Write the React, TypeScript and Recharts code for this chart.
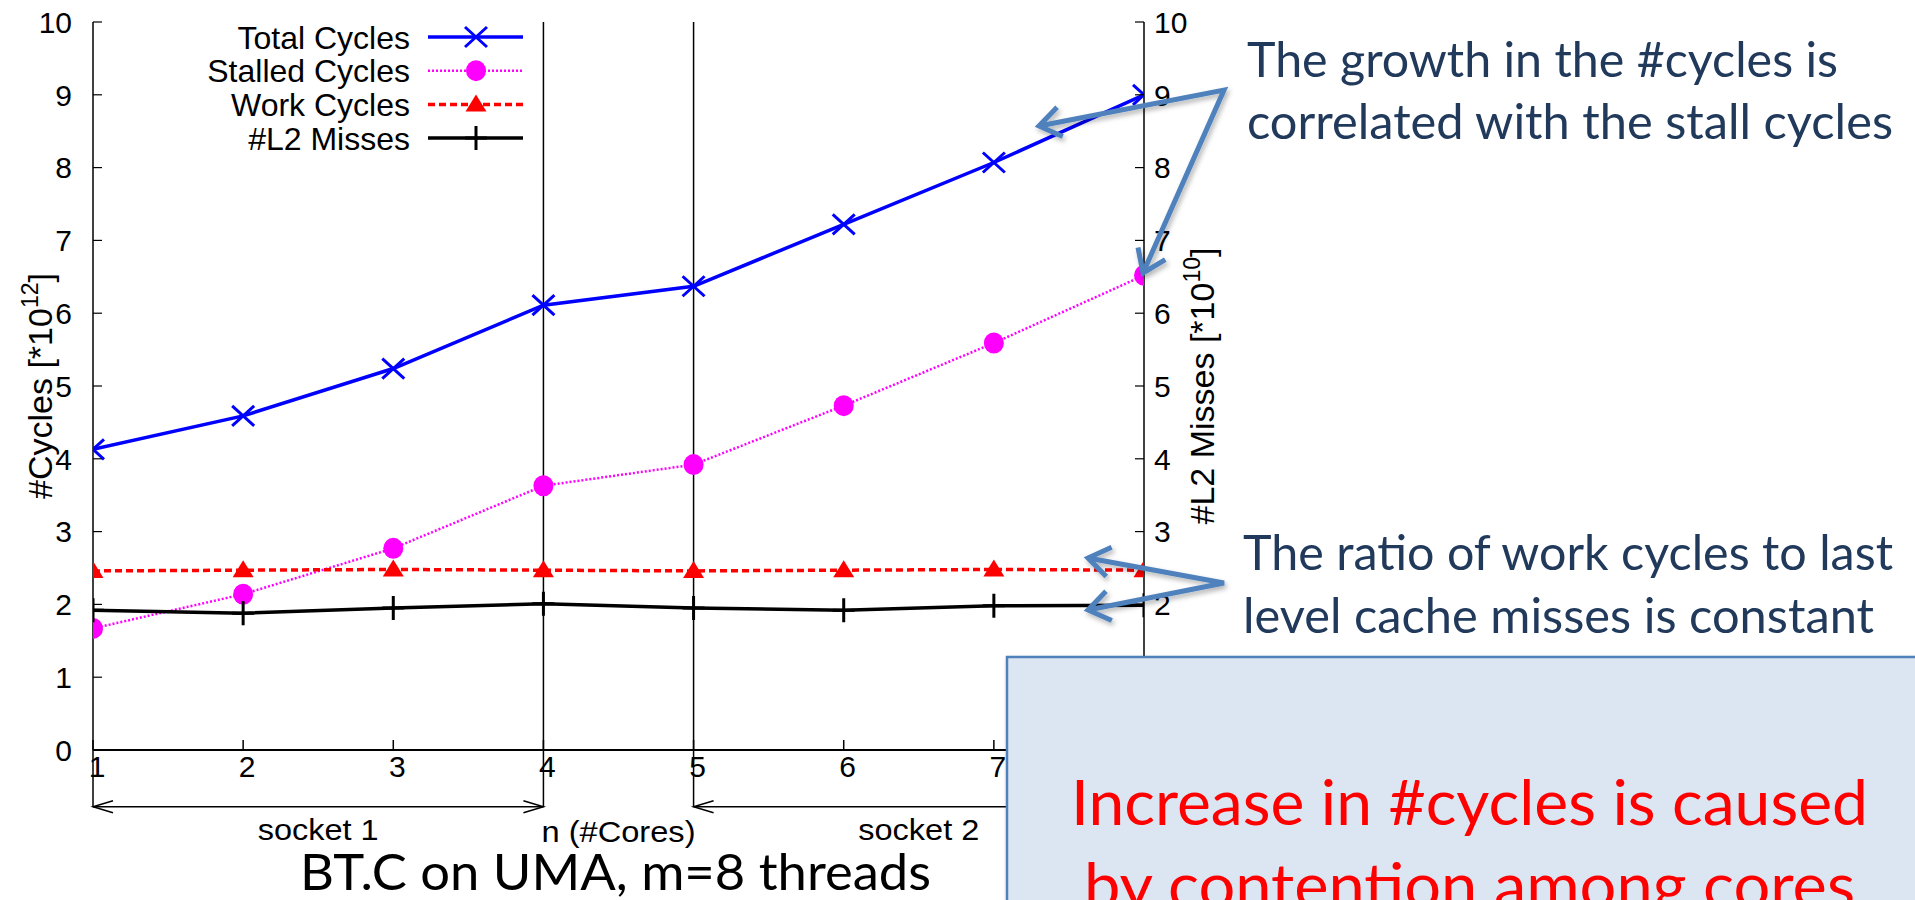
import React from 'react';
import { LineChart, Line, XAxis, YAxis, ReferenceLine, Legend } from 'recharts';

// n (#Cores)
const cores = [1, 2, 3, 4, 5, 6, 7, 8];
// #Cycles [*10^12]
const totalCycles = [4.13, 4.59, 5.24, 6.11, 6.37, 7.22, 8.07, 9.0];
const stalledCycles = [1.67, 2.14, 2.77, 3.63, 3.92, 4.73, 5.59, 6.52];
const workCycles = [2.46, 2.47, 2.48, 2.47, 2.46, 2.47, 2.48, 2.47];
// #L2 Misses [*10^10] (right axis)
const l2Misses = [1.92, 1.88, 1.95, 2.01, 1.95, 1.92, 1.98, 1.99];

const yTicks = [0, 1, 2, 3, 4, 5, 6, 7, 8, 9, 10];
const rightTicks = [1, 2, 3, 4, 5, 6, 7, 8, 9, 10];
const xTicks = cores;
const arrowLevel = -0.78;

const data = cores.map((n, i) => ({
  n,
  total: totalCycles[i],
  stalled: stalledCycles[i],
  work: workCycles[i],
  l2: l2Misses[i]
}));

const series = [
  { key: 'total', name: 'Total Cycles', color: '#0000ff', width: 3.5, dash: undefined, marker: 'cross', axis: 'left' },
  { key: 'stalled', name: 'Stalled Cycles', color: '#ff00ff', width: 2.5, dash: '2 2', marker: 'circle', axis: 'left' },
  { key: 'work', name: 'Work Cycles', color: '#ff0000', width: 3.5, dash: '7 4', marker: 'triangle', axis: 'left' },
  { key: 'l2', name: '#L2 Misses', color: '#000000', width: 3.5, dash: undefined, marker: 'plus', axis: 'right' }
];

const gp = 'Liberation Sans, Arial, Helvetica, sans-serif';
const slide = 'Lato, Open Sans, sans-serif';

const drawMarker = (kind: string, cx: number, cy: number, color: string) => {
  if (kind === 'cross')
    return (
      <path
        d={`M${cx - 11},${cy - 10}L${cx + 11},${cy + 10}M${cx - 11},${cy + 10}L${cx + 11},${cy - 10}`}
        stroke={color}
        strokeWidth={3}
        fill="none"
      />
    );
  if (kind === 'circle') return <ellipse cx={cx} cy={cy} rx={10} ry={10.5} fill={color} />;
  if (kind === 'triangle')
    return <path d={`M${cx},${cy - 10}L${cx + 10.5},${cy + 7}L${cx - 10.5},${cy + 7}Z`} fill={color} />;
  return (
    <path
      d={`M${cx - 11},${cy}L${cx + 11},${cy}M${cx},${cy - 12}L${cx},${cy + 12}`}
      stroke={color}
      strokeWidth={3}
      fill="none"
    />
  );
};

const renderLegend = () => (
  <svg width={350} height={140} style={{ display: 'block' }}>
    {series.map((s, i) => {
      const y = 17 + i * 33.7;
      return (
        <g key={s.key}>
          <text x={220} y={y} dy="0.36em" textAnchor="end" fontFamily={gp} fontSize={32} fill="#000">
            {s.name}
          </text>
          <line x1={238} y1={y} x2={333} y2={y} stroke={s.color} strokeWidth={s.width} strokeDasharray={s.dash} />
          {drawMarker(s.marker, 286, y, s.color)}
        </g>
      );
    })}
  </svg>
);

const BottomTick = (props: any) => {
  const { x, y, payload } = props;
  return (
    <g>
      <line x1={x} y1={y} x2={x} y2={y - 10} stroke="#000" strokeWidth={1.5} />
      <text x={x + 4} y={y + 27} textAnchor="middle" fontFamily={gp} fontSize={30} fill="#000">
        {payload.value}
      </text>
    </g>
  );
};

const TopTick = (props: any) => {
  const { x, y } = props;
  return <line x1={x} y1={y} x2={x} y2={y + 10} stroke="#000" strokeWidth={1.5} />;
};

const LeftTick = (props: any) => {
  const { x, y, payload } = props;
  return (
    <g>
      <line x1={x} y1={y} x2={x + 9} y2={y} stroke="#000" strokeWidth={1.2} />
      <text x={x - 21} y={y} dy="0.36em" textAnchor="end" fontFamily={gp} fontSize={30} fill="#000">
        {payload.value}
      </text>
    </g>
  );
};

const RightTick = (props: any) => {
  const { x, y, payload } = props;
  return (
    <g>
      <line x1={x} y1={y} x2={x - 9} y2={y} stroke="#000" strokeWidth={1.2} />
      <text x={x + 10} y={y} dy="0.36em" textAnchor="start" fontFamily={gp} fontSize={30} fill="#000">
        {payload.value}
      </text>
    </g>
  );
};

const axisTitle = (main: string, sup: string, dx: number) => (props: any) => {
  const vb = props.viewBox;
  const cx = vb.x + dx;
  const cy = vb.y + vb.height / 2;
  return (
    <text
      x={cx}
      y={cy}
      transform={`rotate(-90, ${cx}, ${cy})`}
      textAnchor="middle"
      fontFamily={gp}
      fontSize={34}
      fill="#000"
    >
      {main}
      <tspan fontSize={23} dy={-14}>
        {sup}
      </tspan>
      <tspan dy={14}>]</tspan>
    </text>
  );
};

const xTitle = (props: any) => {
  const vb = props.viewBox;
  return (
    <text
      x={vb.x + vb.width / 2}
      y={vb.y + 92}
      textAnchor="middle"
      fontFamily={gp}
      fontSize={30}
      textLength={154}
      lengthAdjust="spacingAndGlyphs"
      fill="#000"
    >
      n (#Cores)
    </text>
  );
};

const socketArrow = (label: string) => (props: any) => {
  const { x1, y1, x2, y2 } = props;
  return (
    <g>
      <line x1={x1} y1={y1} x2={x2} y2={y2} stroke="#000" strokeWidth={1.5} />
      <path
        d={`M${x1 + 20},${y1 - 6}L${x1},${y1}L${x1 + 20},${y1 + 6}M${x2 - 20},${y2 - 6}L${x2},${y2}L${x2 - 20},${y2 + 6}`}
        fill="none"
        stroke="#000"
        strokeWidth={1.5}
      />
      <text
        x={(x1 + x2) / 2}
        y={y1 + 33}
        textAnchor="middle"
        fontFamily={gp}
        fontSize={30}
        textLength={121}
        lengthAdjust="spacingAndGlyphs"
        fill="#000"
      >
        {label}
      </text>
    </g>
  );
};

const arrowHead = (x1: number, y1: number, x2: number, y2: number) => {
  const a = Math.atan2(y2 - y1, x2 - x1);
  const L = 26;
  const s = (35 * Math.PI) / 180;
  const p1 = [x2 - L * Math.cos(a - s), y2 - L * Math.sin(a - s)];
  const p2 = [x2 - L * Math.cos(a + s), y2 - L * Math.sin(a + s)];
  return `M${p1[0]},${p1[1]}L${x2},${y2}L${p2[0]},${p2[1]}`;
};

const Callout = ({ pts }: { pts: number[][] }) => {
  const [a, v, b] = pts;
  return (
    <g filter="url(#shadow)" fill="none" stroke="#4f81bd" strokeWidth={5} strokeLinejoin="miter">
      <path d={`M${a[0]},${a[1]}L${v[0]},${v[1]}L${b[0]},${b[1]}`} />
      <path d={arrowHead(v[0], v[1], a[0], a[1])} />
      <path d={arrowHead(v[0], v[1], b[0], b[1])} />
    </g>
  );
};

const SlideText = ({ x, y, w, size, color, children }: any) => (
  <text x={x} y={y} fontFamily={slide} fontSize={size} fill={color} textLength={w} lengthAdjust="spacingAndGlyphs">
    {children}
  </text>
);

export default function App() {
  return (
    <div style={{ position: 'relative', width: 1915, height: 900, background: '#fff', overflow: 'hidden' }}>
      <style>{'body{margin:0}'}</style>
      <LineChart width={1915} height={900} data={data} margin={{ top: 22, right: 0, bottom: 0, left: 0 }}>
        <XAxis
          dataKey="n"
          type="number"
          domain={[1, 8]}
          ticks={xTicks}
          allowDataOverflow
          height={150}
          tickSize={0}
          tickMargin={0}
          tickLine={false}
          tick={BottomTick}
          axisLine={{ stroke: '#000', strokeWidth: 2 }}
          label={{ content: xTitle }}
        />
        <XAxis
          xAxisId="top"
          orientation="top"
          type="number"
          domain={[1, 8]}
          ticks={xTicks}
          allowDataOverflow
          height={0}
          tickSize={0}
          tickMargin={0}
          tickLine={false}
          tick={TopTick}
          axisLine={{ stroke: '#000', strokeWidth: 2 }}
        />
        <YAxis
          yAxisId="left"
          domain={[0, 10]}
          ticks={yTicks}
          allowDataOverflow
          width={93}
          tickSize={0}
          tickMargin={0}
          tickLine={false}
          tick={LeftTick}
          axisLine={{ stroke: '#000', strokeWidth: 1.5 }}
          label={{ content: axisTitle('#Cycles [*10', '12', 52) }}
        />
        <YAxis
          yAxisId="right"
          orientation="right"
          domain={[0, 10]}
          ticks={rightTicks}
          allowDataOverflow
          width={771}
          tickSize={0}
          tickMargin={0}
          tickLine={false}
          tick={RightTick}
          axisLine={{ stroke: '#000', strokeWidth: 1.5 }}
          label={{ content: axisTitle('#L2 Misses [*10', '10', 70) }}
        />
        <ReferenceLine
          yAxisId="left"
          ifOverflow="visible"
          segment={[{ x: 4, y: arrowLevel }, { x: 4, y: 10 }]}
          stroke="#000"
          strokeWidth={1.5}
        />
        <ReferenceLine
          yAxisId="left"
          ifOverflow="visible"
          segment={[{ x: 5, y: arrowLevel }, { x: 5, y: 10 }]}
          stroke="#000"
          strokeWidth={1.5}
        />
        <ReferenceLine
          yAxisId="left"
          ifOverflow="visible"
          segment={[{ x: 1, y: arrowLevel }, { x: 1, y: 0 }]}
          stroke="#000"
          strokeWidth={1.5}
        />
        <ReferenceLine
          yAxisId="left"
          ifOverflow="visible"
          segment={[{ x: 1, y: arrowLevel }, { x: 4, y: arrowLevel }]}
          shape={socketArrow('socket 1')}
        />
        <ReferenceLine
          yAxisId="left"
          ifOverflow="visible"
          segment={[{ x: 5, y: arrowLevel }, { x: 8, y: arrowLevel }]}
          shape={socketArrow('socket 2')}
        />
        <Legend
          layout="vertical"
          align="center"
          verticalAlign="middle"
          content={renderLegend}
          wrapperStyle={{ left: 190, top: 20, width: 350, height: 140 }}
        />
        {series.map((s) => (
          <Line
            key={s.key}
            yAxisId={s.axis}
            dataKey={s.key}
            name={s.name}
            type="linear"
            stroke={s.color}
            strokeWidth={s.width}
            strokeDasharray={s.dash}
            isAnimationActive={false}
            dot={(p: any) => <g key={`${s.key}-${p.index}`}>{drawMarker(s.marker, p.cx, p.cy, s.color)}</g>}
            activeDot={false}
          />
        ))}
      </LineChart>
      <svg width={1915} height={900} style={{ position: 'absolute', left: 0, top: 0, pointerEvents: 'none' }}>
        <defs>
          <filter id="shadow" x="-20%" y="-20%" width="140%" height="140%">
            <feDropShadow dx="2" dy="3" stdDeviation="2.5" floodColor="#000" floodOpacity="0.3" />
          </filter>
        </defs>
        <SlideText x={300} y={890} w={631} size={50} color="#000">
          BT.C on UMA, m=8 threads
        </SlideText>
        <SlideText x={1247} y={77} w={591} size={49} color="#213a5c">
          The growth in the #cycles is
        </SlideText>
        <SlideText x={1247} y={139} w={646} size={49} color="#213a5c">
          correlated with the stall cycles
        </SlideText>
        <SlideText x={1243} y={570} w={650} size={49} color="#213a5c">
          The ratio of work cycles to last
        </SlideText>
        <SlideText x={1243} y={633} w={631} size={49} color="#213a5c">
          level cache misses is constant
        </SlideText>
        <Callout pts={[[1039, 126], [1224, 90], [1143, 273]]} />
        <Callout pts={[[1088, 558], [1224, 583], [1088, 610]]} />
        <rect x={1007} y={657} width={940} height={280} fill="#dce6f2" stroke="#4f81bd" strokeWidth={2.5} filter="url(#shadow)" />
        <SlideText x={1071} y={825} w={797} size={62} color="#ff0000">
          Increase in #cycles is caused
        </SlideText>
        <SlideText x={1084} y={908} w={771} size={62} color="#ff0000">
          by contention among cores
        </SlideText>
      </svg>
    </div>
  );
}
